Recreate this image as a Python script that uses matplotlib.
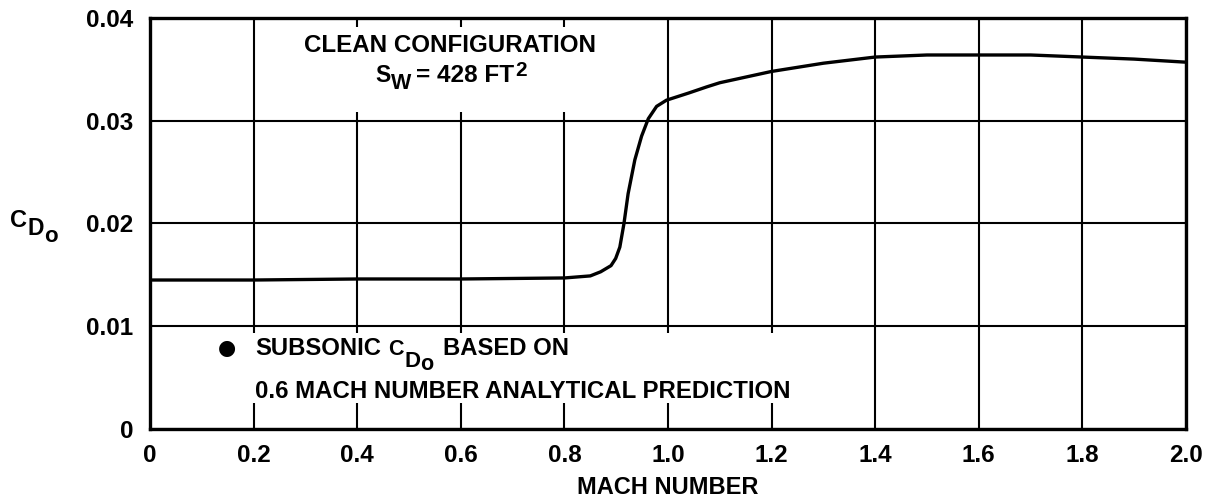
import matplotlib
matplotlib.use("Agg")
import matplotlib.pyplot as plt
from matplotlib.patches import Rectangle

# Zero-lift drag coefficient vs Mach number, clean configuration
mach = [0.0, 0.2, 0.4, 0.6, 0.8, 0.85, 0.87, 0.89, 0.899, 0.907, 0.915,
        0.923, 0.936, 0.949, 0.962, 0.978, 0.997, 1.04, 1.075, 1.1, 1.2, 1.3,
        1.4, 1.5, 1.6, 1.7, 1.8, 1.9, 2.0]
cd0 = [0.0145, 0.0145, 0.0146, 0.0146, 0.0147, 0.0149, 0.0153, 0.0159, 0.0166,
       0.0177, 0.0200, 0.0229, 0.0262, 0.0285, 0.0302, 0.0314, 0.0320, 0.0327,
       0.0333, 0.0337, 0.0348, 0.0356, 0.0362, 0.0364, 0.0364, 0.0364, 0.0362,
       0.0360, 0.0357]

x_ticks = [0.0, 0.2, 0.4, 0.6, 0.8, 1.0, 1.2, 1.4, 1.6, 1.8, 2.0]
x_labels = ["0", "0.2", "0.4", "0.6", "0.8", "1.0", "1.2", "1.4", "1.6", "1.8", "2.0"]
y_ticks = [0.0, 0.01, 0.02, 0.03, 0.04]
y_labels = ["0", "0.01", "0.02", "0.03", "0.04"]

plt.rcParams["font.family"] = ["Liberation Sans", "DejaVu Sans"]
plt.rcParams["font.weight"] = "bold"

W, H = 1206, 498
fig = plt.figure(figsize=(W / 100, H / 100), dpi=100)
ax = fig.add_axes([150 / W, 69 / H, 1036 / W, 411 / H])

ax.set_xlim(0, 2.0)
ax.set_ylim(0, 0.04)
ax.set_xticks(x_ticks)
ax.set_xticklabels(x_labels, fontsize=17.5, fontweight="bold")
ax.set_yticks(y_ticks)
ax.set_yticklabels(y_labels, fontsize=17.5, fontweight="bold")
ax.tick_params(axis="x", length=0, pad=11)
ax.tick_params(axis="y", length=0, pad=12)

ax.set_axisbelow(True)
ax.grid(True, color="black", linewidth=1.5)
for sp in ax.spines.values():
    sp.set_linewidth(2.4)

ax.plot(mach, cd0, color="black", linewidth=2.4, zorder=3)

# white panels behind the annotation text
ax.add_patch(Rectangle((0.106, 0.771), 0.328, 0.207, transform=ax.transAxes,
                       facecolor="white", edgecolor="none", zorder=1))
ax.add_patch(Rectangle((0.048, 0.063), 0.62, 0.171, transform=ax.transAxes,
                       facecolor="white", edgecolor="none", zorder=1))

renderer = fig.canvas.get_renderer()


def text_runs(x_px, base_px, parts, center=False):
    """Lay out text pieces left to right; each piece is
    (string, fontsize, drop in px below the baseline, gap before in px).
    With center=True, x_px is the centre of the whole run."""
    x = x_px
    placed = []
    for s, size, drop, gap in parts:
        x += gap
        y = (H - base_px - drop) / H
        t = fig.text(x / W, y, s, ha="left", va="baseline",
                     fontsize=size, fontweight="bold")
        placed.append((t, x, y))
        x = t.get_window_extent(renderer).x1
    if center:
        shift = (x - x_px) / 2
        for t, x0, y in placed:
            t.set_position(((x0 - shift) / W, y))


text_runs(450, 52, [("CLEAN CONFIGURATION", 17.4, 0, 0)], center=True)
text_runs(451, 82, [("S", 16.5, 0, 0), ("W", 15.5, 7, 0),
                    ("= 428 FT", 17.6, 0, 5), ("2", 15, -6, 1)], center=True)

fig.text(227 / W, (H - 348) / H, "\u25cf", ha="center", va="center",
         fontsize=15, family=["DejaVu Sans"])
text_runs(255, 355, [("SUBSONIC", 17.2, 0, 0), ("C", 15.5, 0, 7),
                     ("D", 16, 12, 1), ("o", 15.5, 15, 0),
                     ("BASED ON", 17.2, 0, 9)])
text_runs(255, 398, [("0.6 MACH NUMBER ANALYTICAL PREDICTION", 17.3, 0, 0)])

fig.text(668 / W, (H - 494) / H, "MACH NUMBER", ha="center", va="baseline",
         fontsize=17, fontweight="bold")
text_runs(10, 227, [("C", 17, 0, 0), ("D", 16.5, 8, 1), ("o", 16, 15, 0)])

fig.savefig("out.png", dpi=100, facecolor="white")
